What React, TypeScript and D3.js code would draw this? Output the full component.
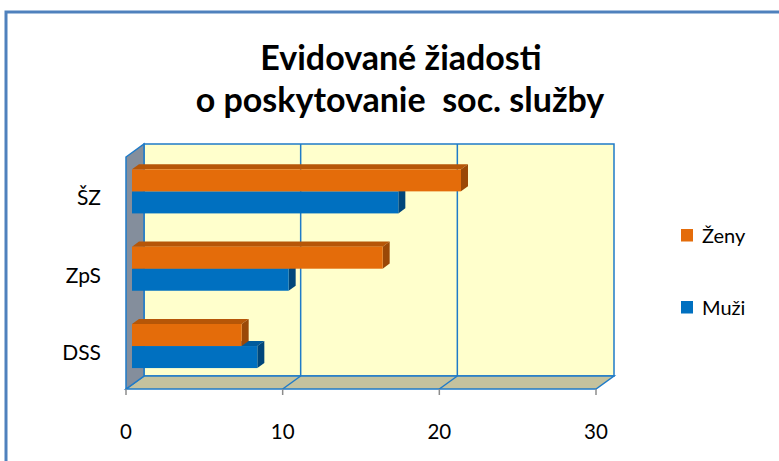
import React from 'react';
import * as d3 from 'd3';

const categories = ['ŠZ', 'ZpS', 'DSS'];
const seriesNames = ['Ženy', 'Muži'];
const zenyValues = [21, 16, 7];
const muziValues = [17, 10, 8];
const tickValues = [0, 10, 20, 30];

const colors: Record<string, { front: string; top: string; side: string }> = {
  'Ženy': { front: '#E46C0A', top: '#B65608', side: '#9A4807' },
  'Muži': { front: '#0070C0', top: '#005B9C', side: '#00467A' },
};

const W = 779;
const H = 461;
const font = 'Lato, "Open Sans", sans-serif';

// 3d offsets
const depthX = 18;
const depthY = -13;
const barFrontX = 6;
const barFrontY = -4.3;
const barBackX = 13;
const barBackY = -9.4;

const App = () => {
  const x = d3.scaleLinear().domain([0, 30]).range([126, 596]);
  const y = d3.scaleBand<string>().domain(categories).range([157, 389]).paddingInner(0.43).paddingOuter(0.215);
  const sub = d3.scaleBand<string>().domain(seriesNames).range([0, y.bandwidth()]);

  const x0 = x(0);
  const x1 = x(30);
  const yTop = 157;
  const yBot = 389;
  const grid = '#1F7BC8';

  const pts = (p: [number, number][]) => p.map((d) => d.join(',')).join(' ');

  // bars, drawn from bottom to top so upper bars cover lower top faces
  const bars: { cat: string; name: string; value: number }[] = [];
  categories.forEach((c, i) => {
    bars.push({ cat: c, name: 'Muži', value: muziValues[i] });
    bars.push({ cat: c, name: 'Ženy', value: zenyValues[i] });
  });
  bars.sort((a, b) => (y(b.cat) ?? 0) - (y(a.cat) ?? 0) || (sub(b.name) ?? 0) - (sub(a.name) ?? 0));

  return (
    <svg width={W} height={H} style={{ position: 'absolute', left: 0, top: 0, background: '#fff' }}>
      <rect x={6} y={12} width={W + 20} height={H + 20} fill="#fff" stroke="#4F81BD" strokeWidth={3} />

      <text x={401} y={69.5} textAnchor="middle" fontFamily={font} fontWeight="bold" fontSize={34} fill="#000">
        Evidované žiadosti
      </text>
      <text x={400} y={112} textAnchor="middle" fontFamily={font} fontWeight="bold" fontSize={34} fill="#000" style={{ whiteSpace: 'pre' }}>
        o poskytovanie  soc. služby
      </text>

      {/* back wall */}
      <polygon
        points={pts([[x0 + depthX, yTop + depthY], [x1 + depthX, yTop + depthY], [x1 + depthX, yBot + depthY], [x0 + depthX, yBot + depthY]])}
        fill="#FFFFCC"
        stroke={grid}
        strokeWidth={1.5}
      />
      {/* floor */}
      <polygon
        points={pts([[x0, yBot], [x1, yBot], [x1 + depthX, yBot + depthY], [x0 + depthX, yBot + depthY]])}
        fill="#C4C29E"
        stroke={grid}
        strokeWidth={1.5}
      />
      {/* side wall */}
      <polygon
        points={pts([[x0, yTop], [x0 + depthX, yTop + depthY], [x0 + depthX, yBot + depthY], [x0, yBot]])}
        fill="#848E9C"
        stroke={grid}
        strokeWidth={1.5}
      />
      {tickValues.slice(1, -1).map((t) => (
        <g key={t}>
          <line x1={x(t) + depthX} x2={x(t) + depthX} y1={yTop + depthY} y2={yBot + depthY} stroke={grid} strokeWidth={1.5} />
          <line x1={x(t)} x2={x(t) + depthX} y1={yBot} y2={yBot + depthY} stroke={grid} strokeWidth={1.5} />
        </g>
      ))}
      {tickValues.map((t) => (
        <g key={'t' + t}>
          <line x1={x(t)} x2={x(t)} y1={yBot} y2={yBot + 6} stroke="#8C8C8C" strokeWidth={1.5} />
          <text x={x(t)} y={439} textAnchor="middle" fontFamily={font} fontSize={20.5} fill="#000">
            {t}
          </text>
        </g>
      ))}

      {bars.map((b) => {
        const c = colors[b.name];
        const fx = x0 + barFrontX;
        const fy = (y(b.cat) ?? 0) + (sub(b.name) ?? 0) + barFrontY;
        const h = sub.bandwidth();
        const ex = x(b.value) + barFrontX;
        const bdx = barBackX - barFrontX;
        const bdy = barBackY - barFrontY;
        return (
          <g key={b.cat + b.name}>
            <polygon points={pts([[fx, fy], [ex, fy], [ex + bdx, fy + bdy], [fx + bdx, fy + bdy]])} fill={c.top} />
            <polygon points={pts([[ex, fy], [ex + bdx, fy + bdy], [ex + bdx, fy + h + bdy], [ex, fy + h]])} fill={c.side} />
            <rect x={fx} y={fy} width={ex - fx} height={h} fill={c.front} />
          </g>
        );
      })}

      {categories.map((c) => (
        <text key={c} x={101} y={(y(c) ?? 0) + y.bandwidth() / 2 + 9.5} textAnchor="end" fontFamily={font} fontSize={21} fill="#000">
          {c}
        </text>
      ))}

      {seriesNames.map((n, i) => (
        <g key={n} transform={`translate(681, ${229 + i * 72})`}>
          <rect width={12} height={12.5} fill={colors[n].front} />
          <text x={21} y={13.5} fontFamily={font} fontSize={20} fill="#000">
            {n}
          </text>
        </g>
      ))}
    </svg>
  );
};

export default App;
